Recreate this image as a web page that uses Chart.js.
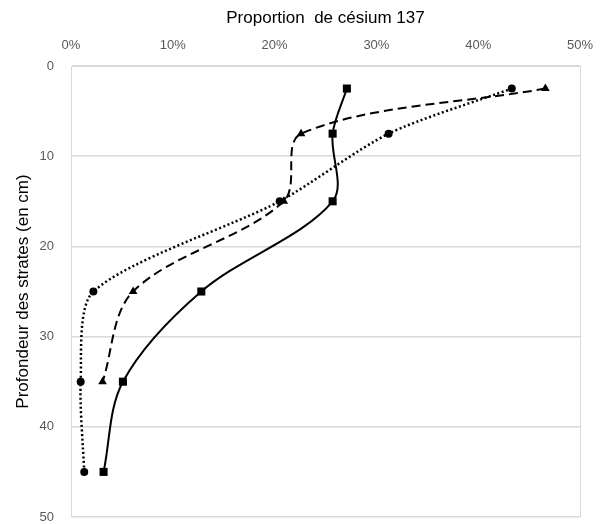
<!DOCTYPE html>
<html>
<head>
<meta charset="utf-8">
<script src="https://cdn.jsdelivr.net/npm/chart.js@4.4.1/dist/chart.umd.min.js"></script>
<style>
  html, body { margin: 0; padding: 0; background: #fff; }
  #wrap { width: 605px; height: 524px; position: relative; }
</style>
</head>
<body>
<div id="wrap"><canvas id="chart"></canvas></div>
<script>
// Depth of each stratum (cm)
const depths = [2.5, 7.5, 15, 25, 35, 45];

// Proportion of caesium 137 (%) per stratum
const seriesSquare = [27.1, 25.7, 25.7, 12.8, 5.1, 3.2];
const seriesTriangle = [46.6, 22.6, 20.9, 6.1, 3.1];
const seriesCircle = [43.3, 31.2, 20.5, 2.2, 0.95, 1.3];

const xTicks = [0, 10, 20, 30, 40, 50];
const yTicks = [0, 10, 20, 30, 40, 50];

function toPoints(values) {
    return values.map((v, i) => ({ x: v, y: depths[i] }));
}

const gridGrey = '#d9d9d9';
const labelGrey = '#595959';
const fontFamily = "'Liberation Sans', 'DejaVu Sans', sans-serif";

const ctx = document.getElementById('chart').getContext('2d');

new Chart(ctx, {
    type: 'scatter',
    data: {
        datasets: [
            {
                label: 'Carrés',
                data: toPoints(seriesSquare),
                showLine: true,
                borderColor: '#000',
                backgroundColor: '#000',
                borderWidth: 2,
                tension: 0.33,
                pointStyle: 'rect',
                pointRadius: 5.7,
                pointBorderWidth: 0
            },
            {
                label: 'Triangles',
                data: toPoints(seriesTriangle),
                showLine: true,
                borderColor: '#000',
                backgroundColor: '#000',
                borderWidth: 2,
                borderDash: [9, 5],
                tension: 0.33,
                pointStyle: 'triangle',
                pointRadius: 5,
                pointBorderWidth: 0
            },
            {
                label: 'Cercles',
                data: toPoints(seriesCircle),
                showLine: true,
                borderColor: '#000',
                backgroundColor: '#000',
                borderWidth: 2.5,
                borderDash: [2, 2.5],
                tension: 0.26,
                pointStyle: 'circle',
                pointRadius: 4,
                pointBorderWidth: 0
            }
        ]
    },
    options: {
        responsive: true,
        maintainAspectRatio: false,
        animation: false,
        layout: {
            padding: { top: 8, right: 25, bottom: 0, left: 13 }
        },
        plugins: {
            legend: { display: false },
            tooltip: { enabled: false }
        },
        scales: {
            x: {
                type: 'linear',
                position: 'top',
                min: 0,
                max: 50,
                afterBuildTicks: axis => {
                    axis.ticks = xTicks.map(v => ({ value: v }));
                },
                afterFit: axis => {
                    axis.height = 58;
                    axis.paddingRight = 10;
                },
                grid: {
                    drawTicks: false,
                    color: c => (c.tick && c.tick.value === 50) ? gridGrey : 'rgba(0,0,0,0)'
                },
                border: { display: true, color: gridGrey },
                ticks: {
                    color: labelGrey,
                    padding: 13,
                    font: { family: fontFamily, size: 13 },
                    callback: v => v + '%'
                },
                title: {
                    display: true,
                    text: 'Proportion  de césium 137',
                    color: '#000',
                    font: { family: fontFamily, size: 17 },
                    padding: 0
                }
            },
            y: {
                type: 'linear',
                reverse: true,
                min: 0,
                max: 50,
                afterBuildTicks: axis => {
                    axis.ticks = yTicks.map(v => ({ value: v }));
                },
                afterFit: axis => {
                    axis.width = 58;
                    // keep only half a label of room below the plot
                    axis.paddingTop = 7;
                    axis.paddingBottom = 7;
                },
                grid: {
                    drawTicks: false,
                    color: gridGrey,
                    lineWidth: 1.5
                },
                border: { display: true, color: gridGrey },
                ticks: {
                    color: labelGrey,
                    padding: 17,
                    font: { family: fontFamily, size: 13 }
                },
                title: {
                    display: true,
                    text: 'Profondeur des strates (en cm)',
                    color: '#000',
                    font: { family: fontFamily, size: 17 },
                    padding: 0
                }
            }
        }
    }
});
</script>
</body>
</html>
